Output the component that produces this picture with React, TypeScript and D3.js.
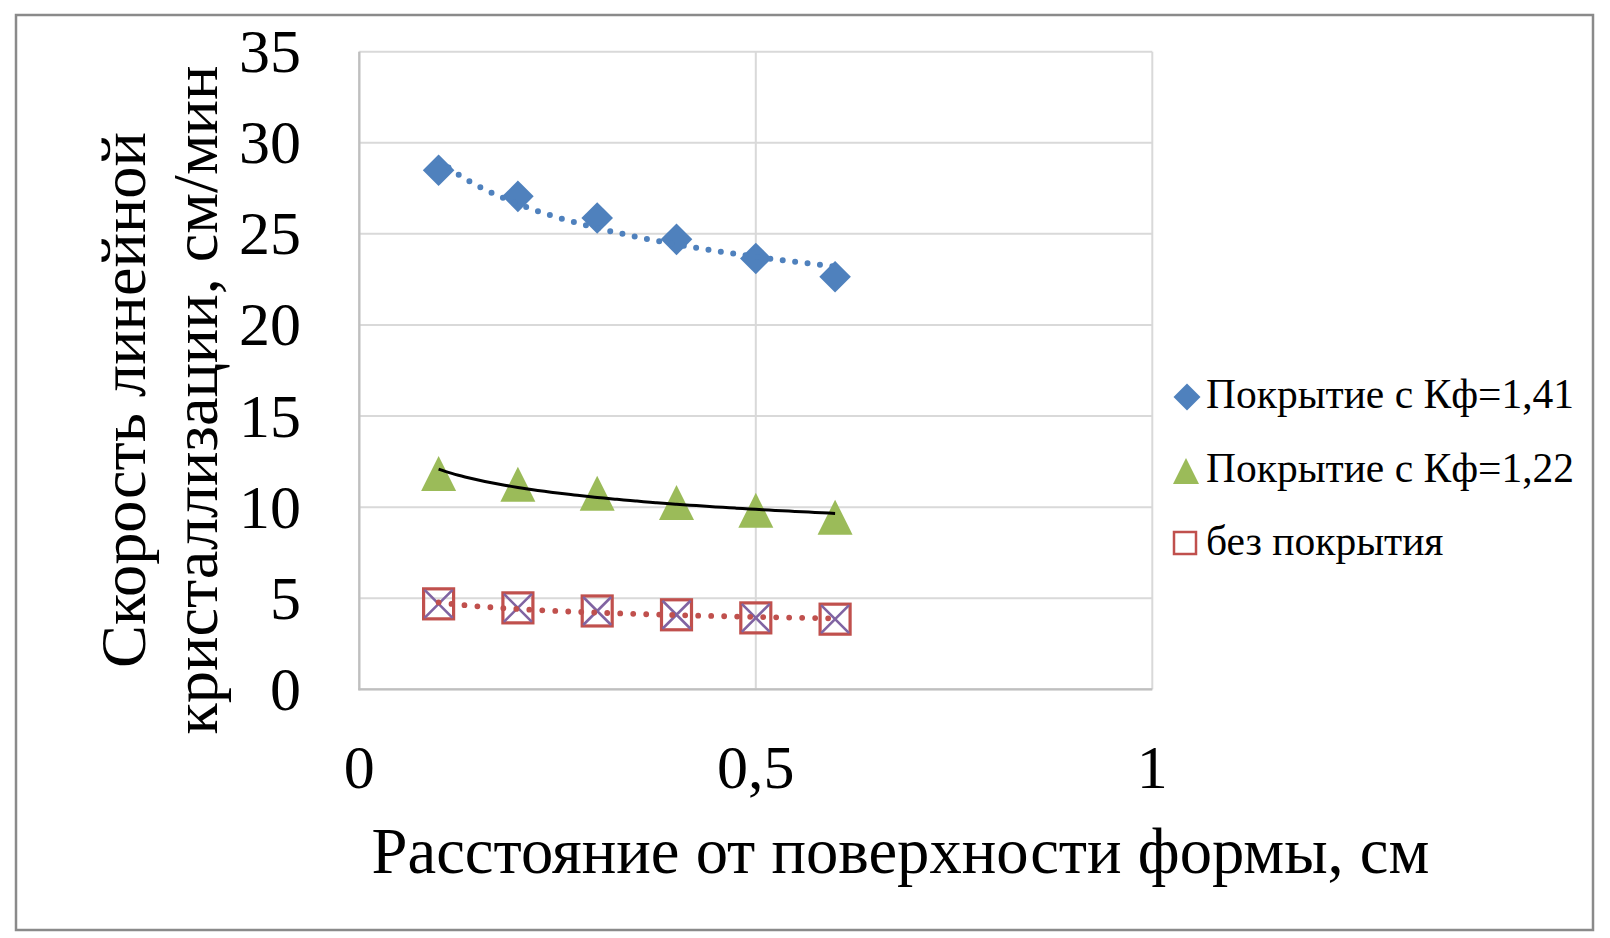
import React from "react";
import * as d3 from "d3";

const xValues = [0.1, 0.2, 0.3, 0.4, 0.5, 0.6];
const coat141 = [28.49, 27.06, 25.87, 24.7, 23.65, 22.65];
const coat122 = [11.85, 11.26, 10.76, 10.25, 9.83, 9.45];
const noCoat = [4.69, 4.47, 4.3, 4.09, 3.92, 3.85];
const yTicks = [0, 5, 10, 15, 20, 25, 30, 35];
const xTicks = [0, 0.5, 1];
const xTickLabels = ["0", "0,5", "1"];
const legendLabels = ["Покрытие с Кф=1,41", "Покрытие с Кф=1,22", "без покрытия"];
const xTitle = "Расстояние от поверхности формы, см";
const yTitleLines = ["Скорость линейной", "кристаллизации, см/мин"];

const W = 1610;
const H = 938;
const FONT = "'Liberation Serif', 'Times New Roman', Times, serif";
const BLUE = "#4F81BD";
const GREEN = "#9BBB59";
const RED = "#C0504D";
const PURPLE = "#8064A2";

function powerFit(xs: number[], ys: number[]) {
  const lx = xs.map(Math.log);
  const ly = ys.map(Math.log);
  const mx = d3.mean(lx) as number;
  const my = d3.mean(ly) as number;
  let sxy = 0;
  let sxx = 0;
  lx.forEach((v, i) => {
    sxy += (v - mx) * (ly[i] - my);
    sxx += (v - mx) * (v - mx);
  });
  const b = sxy / sxx;
  const a = Math.exp(my - b * mx);
  return (x: number) => a * Math.pow(x, b);
}

export default function App() {
  const x = d3.scaleLinear().domain([0, 1]).range([359.3, 1152.3]);
  const y = d3.scaleLinear().domain([0, 35]).range([689.3, 51.7]);

  const xMin = d3.min(xValues) as number;
  const xMax = d3.max(xValues) as number;
  const samples = d3.range(0, 61).map((i) => xMin + ((xMax - xMin) * i) / 60);
  const line = d3
    .line<[number, number]>()
    .x((d) => x(d[0]))
    .y((d) => y(d[1]))
    .curve(d3.curveMonotoneX);
  const trend = (ys: number[]) => {
    const f = powerFit(xValues, ys);
    return line(samples.map((s) => [s, f(s)] as [number, number])) as string;
  };

  const diamondPath = (half: number) =>
    `M0,${-half}L${half},0L0,${half}L${-half},0Z`;
  const triPath = (w: number, h: number) =>
    `M0,${-h / 2}L${w / 2},${h / 2}L${-w / 2},${h / 2}Z`;

  const legendY = [397, 471, 543];
  const legendBase = [408, 481.5, 555];

  return (
    <svg
      width={W}
      height={H}
      style={{ position: "absolute", left: 0, top: 0, background: "#fff" }}
      fontFamily={FONT}
    >
      <rect x={0} y={0} width={W} height={H} fill="#fff" />
      <rect x={16} y={15} width={1577} height={915} fill="#fff" stroke="#8a8a8a" strokeWidth={2.5} />

      {/* gridlines */}
      {yTicks.map((t) => (
        <line key={"gy" + t} x1={x(0)} x2={x(1)} y1={y(t)} y2={y(t)} stroke="#D9D9D9" strokeWidth={2} />
      ))}
      {xTicks.map((t) => (
        <line key={"gx" + t} x1={x(t)} x2={x(t)} y1={y(0)} y2={y(35)} stroke="#D9D9D9" strokeWidth={2} />
      ))}
      {/* axis lines */}
      <line x1={x(0)} x2={x(0)} y1={y(0) + 1} y2={y(35)} stroke="#BFBFBF" strokeWidth={2.2} />
      <line x1={x(0) - 1} x2={x(1)} y1={y(0)} y2={y(0)} stroke="#BFBFBF" strokeWidth={2.2} />

      {/* tick labels */}
      {yTicks.map((t) => (
        <text key={"ty" + t} x={301} y={y(t) + 20.5} textAnchor="end" fontSize={62} fill="#000">
          {String(t)}
        </text>
      ))}
      {xTicks.map((t, i) => (
        <text key={"tx" + t} x={x(t)} y={788} textAnchor="middle" fontSize={62} fill="#000">
          {xTickLabels[i]}
        </text>
      ))}

      {/* axis titles */}
      <text x={900.5} y={873} textAnchor="middle" fontSize={64.6} fill="#000">
        {xTitle}
      </text>
      {yTitleLines.map((s, i) => (
        <text
          key={"yt" + i}
          transform={`translate(${145 + i * 72},400) rotate(-90)`}
          textAnchor="middle"
          fontSize={64.3}
          fill="#000"
        >
          {s}
        </text>
      ))}

      {/* markers: series 1 diamonds */}
      {xValues.map((v, i) => (
        <path key={"d" + i} d={diamondPath(15.8)} transform={`translate(${x(v)},${y(coat141[i])})`} fill={BLUE} />
      ))}
      {/* series 2 triangles */}
      {xValues.map((v, i) => (
        <path key={"t" + i} d={triPath(35, 35)} transform={`translate(${x(v)},${y(coat122[i])})`} fill={GREEN} />
      ))}
      {/* series 3 squares */}
      {xValues.map((v, i) => (
        <rect
          key={"s" + i}
          x={x(v) - 15}
          y={y(noCoat[i]) - 15}
          width={30}
          height={30}
          fill="none"
          stroke={RED}
          strokeWidth={3.2}
        />
      ))}
      {/* x marks */}
      {xValues.map((v, i) => (
        <path
          key={"x" + i}
          d="M-14,-14L14,14M14,-14L-14,14"
          transform={`translate(${x(v)},${y(noCoat[i])})`}
          stroke={PURPLE}
          strokeWidth={2.6}
          fill="none"
        />
      ))}

      {/* trendlines */}
      <path d={trend(coat141)} fill="none" stroke={BLUE} strokeWidth={6} strokeDasharray="0 12.5" strokeLinecap="round" />
      <path d={trend(coat122)} fill="none" stroke="#000" strokeWidth={3} />
      <path d={trend(noCoat)} fill="none" stroke={RED} strokeWidth={5.8} strokeDasharray="0 13" strokeLinecap="round" />

      {/* legend */}
      <path d={diamondPath(13.5)} transform={`translate(1187,${legendY[0]})`} fill={BLUE} />
      <path d={triPath(26, 26)} transform={`translate(1186,${legendY[1]})`} fill={GREEN} />
      <rect x={1174} y={legendY[2] - 11} width={22} height={22} fill="#fff" stroke={RED} strokeWidth={2.5} />
      {legendLabels.map((s, i) => (
        <text key={"lg" + i} x={1206} y={legendBase[i]} fontSize={41.5} fill="#000">
          {s}
        </text>
      ))}
    </svg>
  );
}
